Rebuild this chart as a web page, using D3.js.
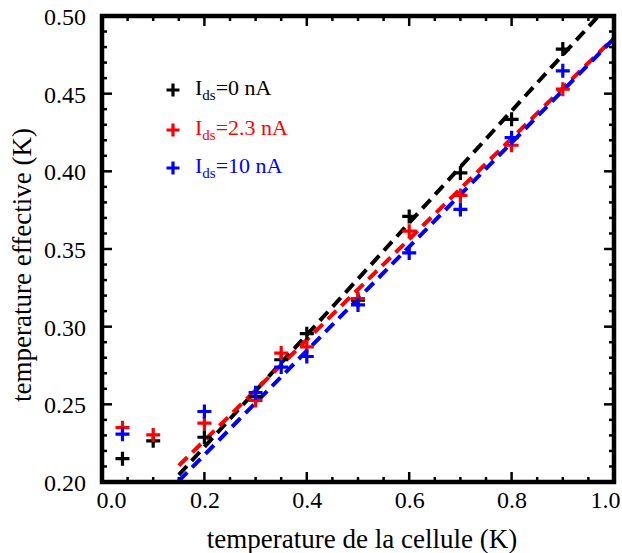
<!DOCTYPE html>
<html><head><meta charset="utf-8">
<script src="https://cdn.jsdelivr.net/npm/d3@7"></script>
<style>body{margin:0;background:#fff}svg{display:block}text{font-family:"Liberation Serif","Times New Roman",serif}</style>
</head><body><svg id="c" width="622" height="553"></svg>
<script>
const xVals = [0.04, 0.1, 0.2, 0.3, 0.35, 0.4, 0.5, 0.6, 0.7, 0.8, 0.9];
const blackVals = [0.215, 0.2265, 0.2288, 0.255, 0.2787, 0.2955, 0.317, 0.371, 0.399, 0.4335, 0.4787];
const redVals   = [0.235, 0.2303, 0.2379, 0.2525, 0.283, 0.287, 0.318, 0.3615, 0.3845, 0.4168, 0.4529];
const blueX     = [0.04, 0.2, 0.3, 0.35, 0.4, 0.5, 0.6, 0.7, 0.8, 0.9];
const blueVals  = [0.2308, 0.2454, 0.2575, 0.274, 0.2808, 0.314, 0.3475, 0.3755, 0.4217, 0.4647];
// fit lines: endpoints [x, y]
const blackFit = [[0.15, 0.2046], [1.0, 0.511]];
const redFit   = [[0.15, 0.2105], [1.0, 0.486]];
const blueFit  = [[0.15, 0.2007], [1.0, 0.4855]];
const xTicks = [0.0, 0.2, 0.4, 0.6, 0.8, 1.0];
const yTicks = [0.20, 0.25, 0.30, 0.35, 0.40, 0.45, 0.50];
const legendLabels = ["0 nA", "2.3 nA", "10 nA"];
const colors = ["#000000", "#ff0000", "#0000ff"];

const svg = d3.select("#c");
const L = 102, R = 614, T = 16, B = 482;
const x = d3.scaleLinear().domain([0, 1.0]).range([L, R]);
const y = d3.scaleLinear().domain([0.2, 0.5]).range([B, T]);

svg.append("defs").append("clipPath").attr("id", "clip")
  .append("rect").attr("x", L).attr("y", T).attr("width", R - L).attr("height", B - T);

// ticks
const xMinor = d3.range(0, 1.0001, 0.05);
const yMinor = d3.range(0.2, 0.5001, 0.01);
const tk = svg.append("g").attr("stroke", "#000").attr("stroke-width", 2.5);
const isMajX = v => Math.abs(v / 0.2 - Math.round(v / 0.2)) < 1e-6;
const isMajY = v => Math.abs(v / 0.05 - Math.round(v / 0.05)) < 1e-6;
xMinor.forEach(v => {
  const len = isMajX(v) ? 10 : 5;
  tk.append("line").attr("x1", x(v)).attr("x2", x(v)).attr("y1", B).attr("y2", B - len);
  tk.append("line").attr("x1", x(v)).attr("x2", x(v)).attr("y1", T).attr("y2", T + len);
});
yMinor.forEach(v => {
  const len = isMajY(v) ? 10 : 5;
  tk.append("line").attr("y1", y(v)).attr("y2", y(v)).attr("x1", L).attr("x2", L + len);
  tk.append("line").attr("y1", y(v)).attr("y2", y(v)).attr("x1", R).attr("x2", R - len);
});

// tick labels via d3 axes (text only)
const xAxis = svg.append("g").attr("transform", `translate(0,${B + 4})`)
  .call(d3.axisBottom(x).tickValues(xTicks).tickFormat(d3.format(".1f")).tickSize(0));
xAxis.select(".domain").remove();
xAxis.selectAll("text").attr("font-size", 24).attr("font-family", "Liberation Serif").attr("fill", "#000").attr("dy", "0.78em")
  .attr("dx", d => d === 0 ? 9 : (d === 1 ? -9 : 0));
const yAxis = svg.append("g").attr("transform", `translate(${L - 13},0)`)
  .call(d3.axisLeft(y).tickValues(yTicks).tickFormat(d3.format(".2f")).tickSize(0));
yAxis.select(".domain").remove();
yAxis.selectAll("text").attr("font-size", 24).attr("font-family", "Liberation Serif").attr("fill", "#000").attr("dy", "0.35em");

// fit lines
const line = d3.line().x(d => x(d[0])).y(d => y(d[1]));
const gl = svg.append("g").attr("clip-path", "url(#clip)");
[[blackFit, 0], [redFit, 1], [blueFit, 2]].forEach(([f, i]) => {
  gl.append("path").attr("d", line(f)).attr("fill", "none").attr("stroke", colors[i])
    .attr("stroke-width", 4).attr("stroke-dasharray", "12,7");
});

// markers
function cross(g, cx, cy, col, s = 7) {
  g.append("path").attr("d", `M${cx - s},${cy}H${cx + s}M${cx},${cy - s}V${cy + s}`)
    .attr("stroke", col).attr("stroke-width", 3.2).attr("fill", "none");
}
const gm = svg.append("g");
xVals.forEach((v, i) => cross(gm, x(v), y(blackVals[i]), colors[0]));
xVals.forEach((v, i) => cross(gm, x(v), y(redVals[i]), colors[1]));
blueX.forEach((v, i) => cross(gm, x(v), y(blueVals[i]), colors[2]));

// frame
svg.append("rect").attr("x", L).attr("y", T).attr("width", R - L).attr("height", B - T)
  .attr("fill", "none").attr("stroke", "#000").attr("stroke-width", 4.5);

// legend
const legY = [88, 128, 166];
legendLabels.forEach((lab, i) => {
  cross(svg, 173, legY[i] + 2, colors[i], 6.5);
  const t = svg.append("text").attr("x", 195).attr("y", legY[i] + 7).attr("font-size", 22).attr("fill", colors[i]);
  t.append("tspan").text("I");
  t.append("tspan").attr("font-size", 15).attr("dy", 5).text("ds");
  t.append("tspan").attr("dy", -5).text("=" + lab);
});

// axis titles
svg.append("text").attr("x", (L + R) / 2 + 4).attr("y", 548).attr("text-anchor", "middle")
  .attr("font-size", 27).text("temperature de la cellule (K)");
svg.append("text").attr("transform", `translate(31,${(T + B) / 2 + 16}) rotate(-90)`).attr("text-anchor", "middle")
  .attr("font-size", 27).text("temperature effective (K)");
</script></body></html>
